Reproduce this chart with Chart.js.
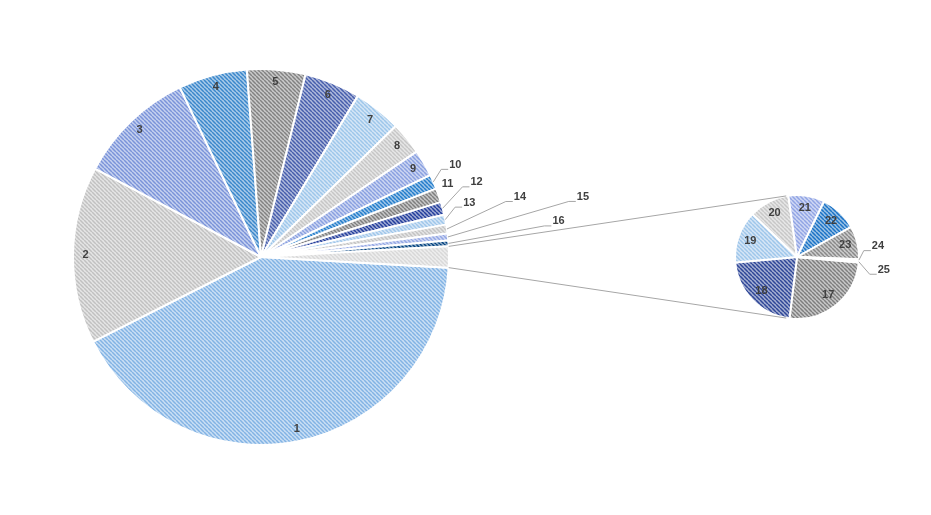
<!DOCTYPE html>
<html>
<head>
<meta charset="utf-8">
<script src="https://cdn.jsdelivr.net/npm/chart.js@4/dist/chart.umd.min.js"></script>
<style>
body { margin: 0; background: #fff; }
#wrap { position: relative; width: 931px; height: 515px; }
#wrap canvas { position: absolute; left: 0; top: 0; }
</style>
</head>
<body>
<div id="wrap">
	<canvas id="main" width="931" height="515"></canvas>
	<canvas id="second" width="931" height="515"></canvas>
</div>
<script>
// categories and values (share of the total, in %)
var mainLabels = ['1', '2', '3', '4', '5', '6', '7', '8', '9', '10', '11', '12', '13', '14', '15', '16'];
var mainValues = [41.6, 15.2, 10.1, 5.9, 5.0, 4.8, 4.1, 2.8, 2.3, 1.25, 1.2, 1.1, 0.86, 0.75, 0.6, 0.5];
var secondLabels = ['17', '18', '19', '20', '21', '22', '23', '24', '25'];
var secondValues = [0.46, 0.39, 0.245, 0.19, 0.17, 0.175, 0.155, 0.009, 0.006];

// the "other" slice of the big pie is the sum of the small pie
var otherValue = secondValues.reduce((a, b) => a + b, 0);

// average tone of each hatched slice
var mainColors = ['#a6c9ec', '#d3d3d3', '#a0b2e4', '#72a9da', '#a6a6a6', '#7b8cc4', '#b9d6f0', '#d6d6d6',
	'#abbbe9', '#62a2da', '#a3a3a3', '#6275b8', '#bad6f0', '#d4d4d4', '#b2c0ec', '#4a78a4', '#e3e3e3'];
var secondColors = ['#a3a3a3', '#6a7bb5', '#bad6f0', '#d7d7d7', '#b0beec', '#5c9bd6', '#ababab', '#5d6fb3', '#bad6f0'];

// labels set outside with a leader line: index -> [dx, dy] from slice edge, draw line?
var mainLeaders = { 9: [22, -17, true], 10: [9, -11, false], 11: [34, -26, true], 12: [24, -17, true],
	13: [73, -32, true], 14: [135, -40, true], 15: [110, -22, true] };
var secondLeaders = { 7: [19, -14, true], 8: [25, 8, true] };

// where the two pies sit
var W = 931, H = 515;
var MAIN = { cx: 261, cy: 257, r: 188 };
var SECOND = { cx: 797, cy: 257, r: 62 };

// diagonal hatch whose overall tone is the given colour
function hatch(hex) {
	const n = parseInt(hex.slice(1), 16);
	const base = [n >> 16, (n >> 8) & 255, n & 255];
	const bg = base.map(c => Math.round(c + (255 - c) * 0.4));
	const fg = base.map((c, i) => Math.max(0, Math.min(255, 2 * c - bg[i])));
	const tile = document.createElement('canvas');
	tile.width = tile.height = 4;
	const t = tile.getContext('2d');
	t.fillStyle = 'rgb(' + bg.join(',') + ')';
	t.fillRect(0, 0, 4, 4);
	t.strokeStyle = 'rgb(' + fg.join(',') + ')';
	t.lineWidth = 1.5;
	t.beginPath();
	for (let o = -4; o <= 4; o += 4) {
		t.moveTo(o, 0);
		t.lineTo(o + 4, 4);
	}
	t.stroke();
	return t.createPattern(tile, 'repeat');
}

function padFor(p) {
	return { left: p.cx - p.r - 1, right: W - (p.cx + p.r + 1), top: p.cy - p.r - 1, bottom: H - (p.cy + p.r + 1) };
}

function labelPlugin(labels, leaders) {
	return {
		id: 'sliceLabels',
		afterDatasetsDraw(chart) {
			const ctx = chart.ctx;
			const arcs = chart.getDatasetMeta(0).data;
			ctx.save();
			ctx.font = 'bold 11px "Liberation Sans", Arial, sans-serif';
			ctx.fillStyle = '#404040';
			ctx.textAlign = 'center';
			ctx.textBaseline = 'middle';
			ctx.strokeStyle = '#a6a6a6';
			ctx.lineWidth = 1;
			arcs.forEach((arc, i) => {
				if (i >= labels.length) return;
				const p = arc.getProps(['x', 'y', 'startAngle', 'endAngle', 'outerRadius'], true);
				const mid = (p.startAngle + p.endAngle) / 2;
				const lead = leaders[i];
				let lx, ly;
				if (lead) {
					const ax = p.x + Math.cos(mid) * p.outerRadius;
					const ay = p.y + Math.sin(mid) * p.outerRadius;
					lx = ax + lead[0];
					ly = ay + lead[1];
					if (lead[2]) {
						const left = lx - ctx.measureText(labels[i]).width / 2;
						ctx.beginPath();
						ctx.moveTo(ax, ay);
						ctx.lineTo(left - 8, ly + 4.5);
						ctx.lineTo(left - 1, ly + 4.5);
						ctx.stroke();
					}
				} else {
					const rr = p.outerRadius - 12.5;
					lx = p.x + Math.cos(mid) * rr;
					ly = p.y + Math.sin(mid) * rr;
				}
				ctx.fillText(labels[i], lx, ly);
			});
			ctx.restore();
		}
	};
}

var baseOptions = {
	responsive: false,
	animation: false,
	events: [],
	plugins: { legend: { display: false }, tooltip: { enabled: false } }
};

var mainChart = new Chart(document.getElementById('main'), {
	type: 'pie',
	data: {
		labels: mainLabels.concat(['Other']),
		datasets: [{
			data: mainValues.concat([otherValue]),
			backgroundColor: mainColors.map(hatch),
			borderColor: '#ffffff',
			borderWidth: 2,
			hoverBorderWidth: 2,
			offset: 0,
			hoverOffset: 0
		}]
	},
	options: Object.assign({}, baseOptions, {
		rotation: 90 + otherValue / (mainValues.reduce((a, b) => a + b, 0) + otherValue) * 180,
		layout: { padding: padFor(MAIN) }
	}),
	plugins: [labelPlugin(mainLabels, mainLeaders)]
});

// lines joining the "other" slice to the small pie
var connector = {
	id: 'connector',
	afterDraw(chart) {
		const o = mainChart.getDatasetMeta(0).data[mainLabels.length]
			.getProps(['x', 'y', 'startAngle', 'endAngle', 'outerRadius'], true);
		const c = chart.getDatasetMeta(0).data[0].getProps(['x', 'y', 'outerRadius'], true);
		const tilt = 10 * Math.PI / 180;
		const ctx = chart.ctx;
		ctx.save();
		ctx.strokeStyle = '#a6a6a6';
		ctx.lineWidth = 1;
		[[o.startAngle, -1], [o.endAngle, 1]].forEach(([a, s]) => {
			ctx.beginPath();
			ctx.moveTo(o.x + Math.cos(a) * o.outerRadius, o.y + Math.sin(a) * o.outerRadius);
			ctx.lineTo(c.x - Math.sin(tilt) * c.outerRadius, c.y + s * Math.cos(tilt) * c.outerRadius);
			ctx.stroke();
		});
		ctx.restore();
	}
};

var secondChart = new Chart(document.getElementById('second'), {
	type: 'pie',
	data: {
		labels: secondLabels,
		datasets: [{
			data: secondValues,
			backgroundColor: secondColors.map(hatch),
			borderColor: '#ffffff',
			borderWidth: 2,
			hoverBorderWidth: 2,
			offset: 0,
			hoverOffset: 0
		}]
	},
	options: Object.assign({}, baseOptions, {
		rotation: 95,
		layout: { padding: padFor(SECOND) }
	}),
	plugins: [connector, labelPlugin(secondLabels, secondLeaders)]
});
</script>
</body>
</html>
